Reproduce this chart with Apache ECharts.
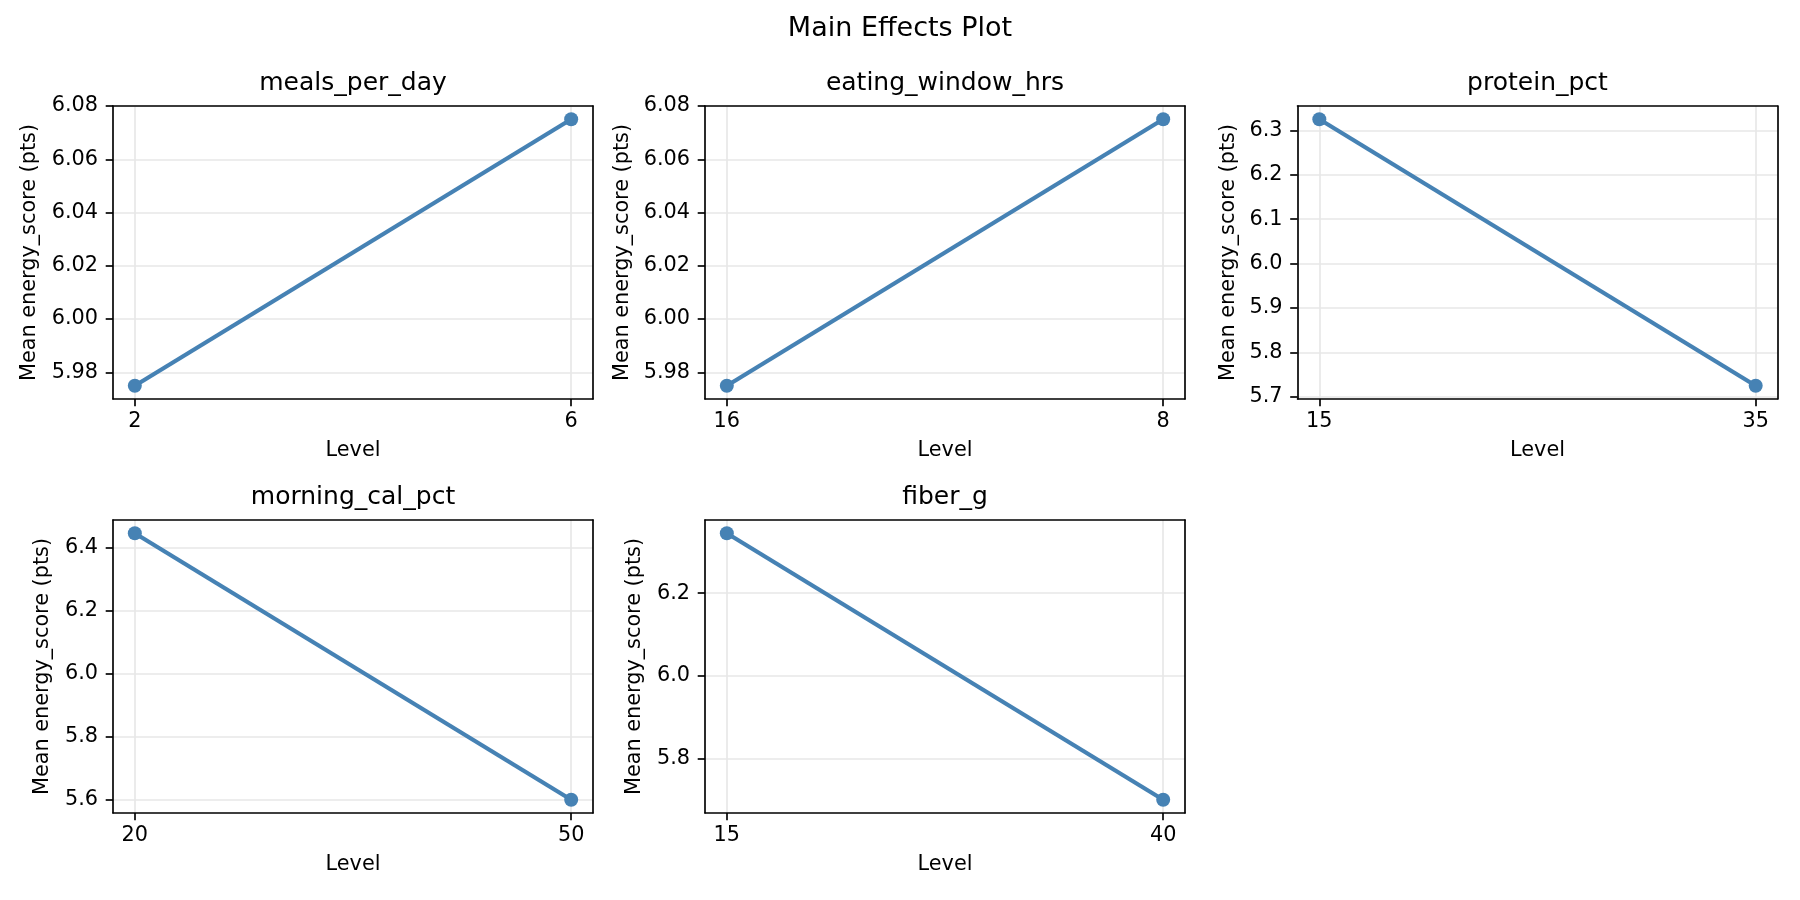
<!DOCTYPE html>
<html><head><meta charset="utf-8">
<script src="https://cdn.jsdelivr.net/npm/echarts@6/dist/echarts.min.js"></script>
<style>html,body{margin:0;padding:0;background:#fff}#c{width:1800px;height:900px}</style>
</head><body><div id="c"></div>
<script>
// ---------- data ----------
const figureTitle = 'Main Effects Plot';
const yLabel = 'Mean energy_score (pts)';
const xLabel = 'Level';

const factors = ['meals_per_day', 'eating_window_hrs', 'protein_pct', 'morning_cal_pct', 'fiber_g'];

const levels_meals_per_day = ['2', '6'];
const means_meals_per_day = [5.975, 6.075];
const yTicks_meals_per_day = ['5.98', '6.00', '6.02', '6.04', '6.06', '6.08'];

const levels_eating_window_hrs = ['16', '8'];
const means_eating_window_hrs = [5.975, 6.075];
const yTicks_eating_window_hrs = ['5.98', '6.00', '6.02', '6.04', '6.06', '6.08'];

const levels_protein_pct = ['15', '35'];
const means_protein_pct = [6.325, 5.725];
const yTicks_protein_pct = ['5.7', '5.8', '5.9', '6.0', '6.1', '6.2', '6.3'];

const levels_morning_cal_pct = ['20', '50'];
const means_morning_cal_pct = [6.445, 5.6];
const yTicks_morning_cal_pct = ['5.6', '5.8', '6.0', '6.2', '6.4'];

const levels_fiber_g = ['15', '40'];
const means_fiber_g = [6.345, 5.7];
const yTicks_fiber_g = ['5.8', '6.0', '6.2'];

const panelData = [
  [levels_meals_per_day, means_meals_per_day, yTicks_meals_per_day],
  [levels_eating_window_hrs, means_eating_window_hrs, yTicks_eating_window_hrs],
  [levels_protein_pct, means_protein_pct, yTicks_protein_pct],
  [levels_morning_cal_pct, means_morning_cal_pct, yTicks_morning_cal_pct],
  [levels_fiber_g, means_fiber_g, yTicks_fiber_g]
];

// ---------- layout (px) ----------
const colLeft = [113, 705, 1297.5];
const rowTop = [106, 520];
const cellW = 480, cellH = 293;
const yNameGap = [72.5, 72, 58.5, 59.5, 59.5];
const FONT = '"DejaVu Sans", "Liberation Sans", sans-serif';
const LW = 1.67;
const LINE_COLOR = '#4682b4';
const GRID_COLOR = '#e7e7e7';

const grids = [], xAxes = [], yAxes = [], series = [], graphics = [];

graphics.push({
  type: 'text', x: 900, y: 29,
  style: { text: figureTitle, font: '27px ' + FONT, fill: '#000',
           textAlign: 'center', textVerticalAlign: 'middle', align: 'center', verticalAlign: 'middle' }
});

factors.forEach((name, i) => {
  const [levels, means, ticks] = panelData[i];
  const r = Math.floor(i / 3), c = i % 3;
  const left = colLeft[c], top = rowTop[r];
  grids.push({ left: left, top: top, width: cellW, height: cellH, containLabel: false, show: false });

  const lo = Math.min(...means), hi = Math.max(...means);
  const pad = (hi - lo) * 0.05;
  const yMin = lo - pad, yMax = hi + pad;
  const xPad = (levels.length - 1) * 0.05;
  const xIdx = levels.map((_, j) => j);
  const tickNums = ticks.map(Number);

  // bottom x axis (main)
  xAxes.push({
    gridIndex: i, type: 'value', position: 'bottom', min: -xPad, max: levels.length - 1 + xPad,
    name: xLabel, nameLocation: 'middle', nameGap: 41,
    nameTextStyle: { fontFamily: FONT, fontSize: 20.8, color: '#000' },
    axisLine: { show: true, onZero: false, lineStyle: { color: '#000', width: LW } },
    axisTick: { show: true, length: 7.3, lineStyle: { color: '#000', width: LW }, customValues: xIdx },
    axisLabel: { show: true, margin: 12.5, fontFamily: FONT, fontSize: 20.8, color: '#000',
                 customValues: xIdx, formatter: v => levels[Math.round(v)] },
    splitLine: { show: true, lineStyle: { color: GRID_COLOR, width: LW } },
    z: 3
  });
  // top border
  xAxes.push({
    gridIndex: i, type: 'value', position: 'top', min: -xPad, max: levels.length - 1 + xPad,
    axisLine: { show: true, onZero: false, lineStyle: { color: '#000', width: LW } },
    axisTick: { show: false }, axisLabel: { show: false }, splitLine: { show: false }, z: 5
  });
  // left y axis (main)
  yAxes.push({
    gridIndex: i, type: 'value', position: 'left', min: yMin, max: yMax,
    name: yLabel, nameLocation: 'middle', nameGap: yNameGap[i],
    nameTextStyle: { fontFamily: FONT, fontSize: 20.8, color: '#000' },
    axisLine: { show: true, onZero: false, lineStyle: { color: '#000', width: LW } },
    axisTick: { show: true, length: 7.3, lineStyle: { color: '#000', width: LW }, customValues: tickNums },
    axisLabel: { show: true, margin: 15, fontFamily: FONT, fontSize: 20.8, color: '#000',
                 customValues: tickNums,
                 formatter: v => {
                   let best = 0;
                   tickNums.forEach((t, k) => { if (Math.abs(t - v) < Math.abs(tickNums[best] - v)) best = k; });
                   return ticks[best];
                 } },
    splitLine: { show: true, lineStyle: { color: GRID_COLOR, width: LW } },
    z: 3
  });
  // right border
  yAxes.push({
    gridIndex: i, type: 'value', position: 'right', min: yMin, max: yMax,
    axisLine: { show: true, onZero: false, lineStyle: { color: '#000', width: LW } },
    axisTick: { show: false }, axisLabel: { show: false }, splitLine: { show: false }, z: 5
  });

  series.push({
    type: 'line', name: name, xAxisIndex: 2 * i, yAxisIndex: 2 * i,
    data: means.map((v, j) => [j, v]),
    symbol: 'circle', symbolSize: 14, showSymbol: true,
    lineStyle: { color: LINE_COLOR, width: 4.2 },
    itemStyle: { color: LINE_COLOR, borderWidth: 0 },
    emphasis: { disabled: true }, animation: false, clip: false, z: 4
  });

  graphics.push({
    type: 'text', x: left + cellW / 2, y: top - 22.7,
    style: { text: name, font: '25px ' + FONT, fill: '#000',
             textAlign: 'center', textVerticalAlign: 'middle', align: 'center', verticalAlign: 'middle' }
  });
});

const chart = echarts.init(document.getElementById('c'), null, { renderer: 'canvas' });
chart.setOption({
  backgroundColor: '#fff',
  animation: false,
  grid: grids, xAxis: xAxes, yAxis: yAxes, series: series,
  graphic: graphics
});
</script>
</body></html>
